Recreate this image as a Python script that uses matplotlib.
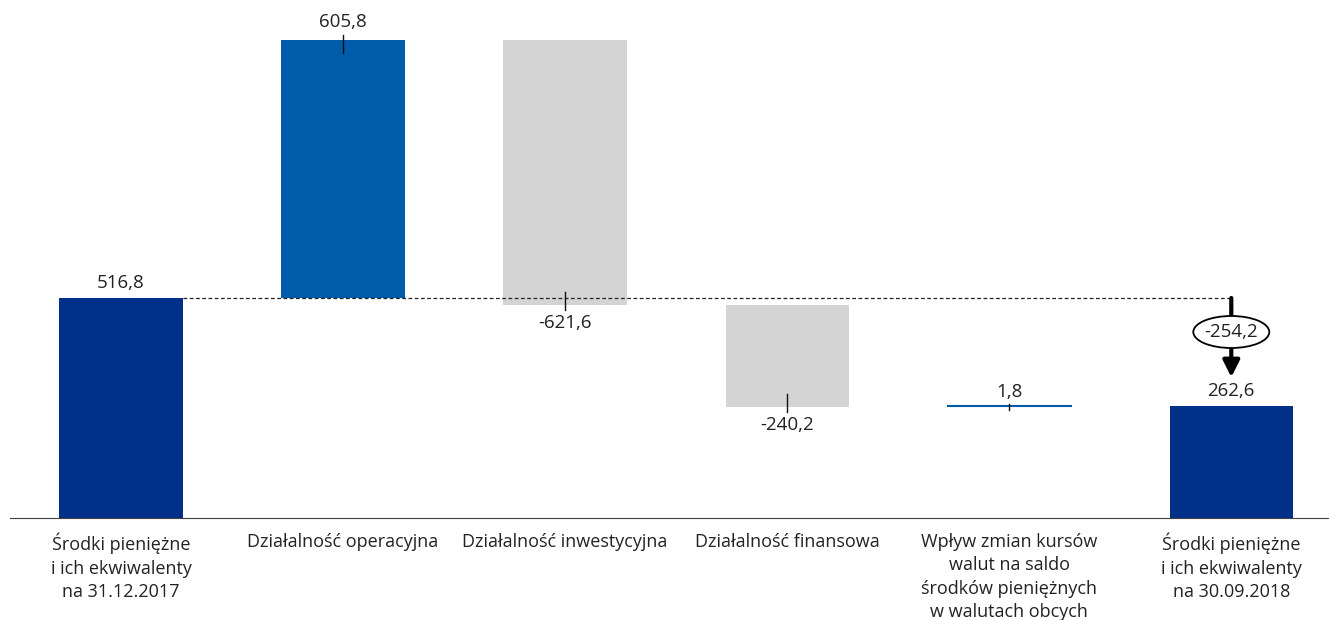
import numpy as np
import matplotlib.pyplot as plt
from matplotlib.patches import Ellipse

# data
categories = ['Środki pieniężne\ni ich ekwiwalenty\nna 31.12.2017',
              'Działalność operacyjna',
              'Działalność inwestycyjna',
              'Działalność finansowa',
              'Wpływ zmian kursów\nwalut na saldo\nśrodków pieniężnych\nw walutach obcych',
              'Środki pieniężne\ni ich ekwiwalenty\nna 30.09.2018']
opening = 516.8
changes = [605.8, -621.6, -240.2, 1.8]
closing = 262.6
net_change = -254.2

navy = '#003087'
blue = '#005BAA'
grey = '#D4D4D4'

plt.rcParams['font.family'] = ['Open Sans', 'DejaVu Sans']

fig = plt.figure(figsize=(13.29, 6.2), dpi=100)
ax = fig.add_axes([0.0075, 102 / 620, 0.9925, 518 / 620])
ax.set_xlim(-0.5, 5.44)
ax.set_ylim(0, 1216.8)
for s in ['top', 'right', 'left']:
    ax.spines[s].set_visible(False)
ax.spines['bottom'].set_color('#404040')
ax.set_yticks([])
ax.set_xticks([])

w = 0.555
upx = 1216.8 / 518  # data units per pixel
nfs = 13.5
cfs = 13

# opening bar
ax.bar(0, opening, width=w, color=navy)
ax.text(0, opening + 15 * upx, f'{opening:.1f}'.replace('.', ','),
        ha='center', va='center', fontsize=nfs, color='#222222')

# floating bars
level = opening
for i, v in enumerate(changes, start=1):
    bottom = level if v > 0 else level + v
    col = blue if v > 0 else grey
    if abs(v) < 5:
        ax.plot([i - w / 2, i + w / 2], [level + v, level + v], color=blue, lw=1.5)
    else:
        ax.bar(i, abs(v), bottom=bottom, width=w, color=col)
    end = level + v
    sgn = 1 if v > 0 else -1
    inside = min(13 * upx, abs(v) + 3 * upx)
    beyond = 5 * upx if abs(v) > 5 else 2 * upx
    ax.plot([i, i], [end - sgn * inside, end + sgn * beyond], color='#111111', lw=1)
    off = 18 * upx if abs(v) > 5 else 14 * upx
    ax.text(i, end + sgn * off, f'{v:.1f}'.replace('.', ','),
            ha='center', va='center', fontsize=nfs, color='#222222')
    level = end

# closing bar
ax.bar(5, closing, width=w, color=navy)
ax.text(5, closing + 15 * upx, f'{closing:.1f}'.replace('.', ','),
        ha='center', va='center', fontsize=nfs, color='#222222')

# dashed reference line
ax.plot([w / 2, 5], [opening, opening], color='#222222', lw=0.9, ls=(0, (3, 2)))

# arrow with ellipse label
tip = closing + 29 * upx
ax.annotate('', xy=(5, tip), xytext=(5, opening),
            arrowprops=dict(arrowstyle='-|>,head_width=0.5,head_length=1.0',
                            color='black', lw=3, shrinkA=0, shrinkB=0))
ey = opening - 34 * upx
ax.add_patch(Ellipse((5, ey), 76 / 222, 32 * upx, facecolor='white',
                     edgecolor='black', lw=1.3, zorder=5))
ax.text(5, ey, f'{net_change:.1f}'.replace('.', ','), ha='center', va='center',
        fontsize=nfs, color='#222222', zorder=6)

# category labels
for i, c in enumerate(categories):
    ax.text(i, -15 * upx, c, ha='center', va='top', fontsize=cfs,
            color='#222222', linespacing=1.38, clip_on=False)

fig.savefig('out.png', dpi=100)
